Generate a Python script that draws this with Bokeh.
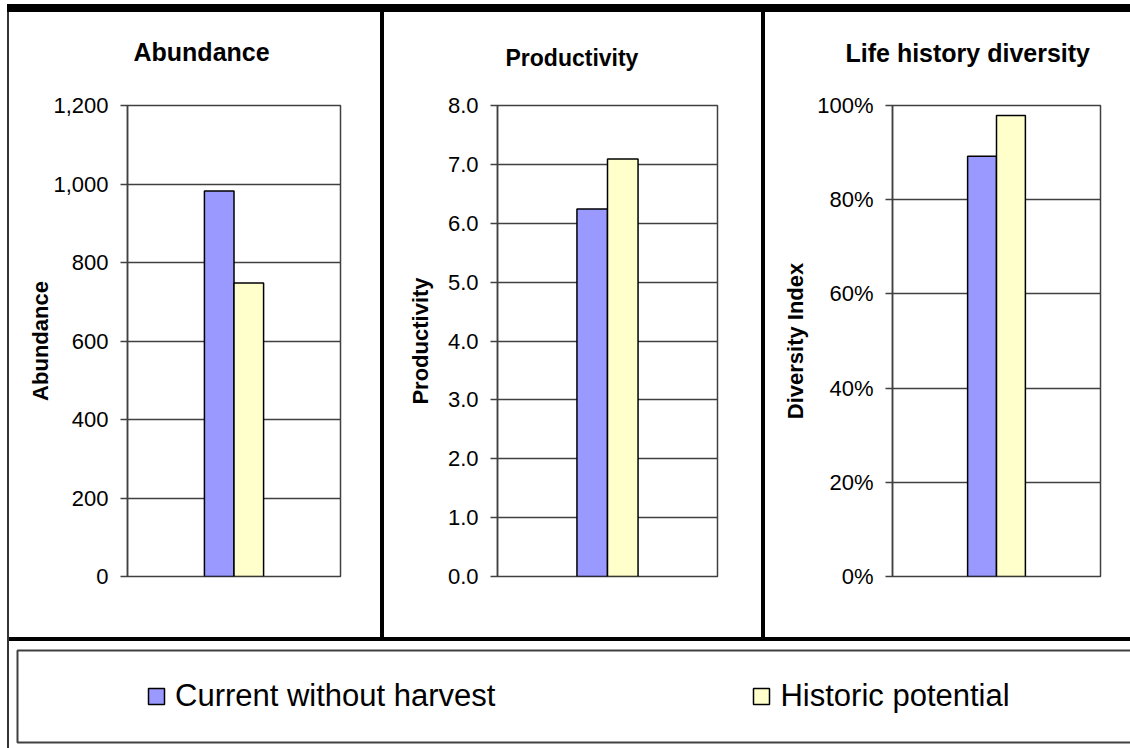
from bokeh.plotting import figure
from bokeh.models import (FactorRange, Range1d, FixedTicker, NumeralTickFormatter, Title, Div,
                          Legend, LegendItem, BoxAnnotation, ColumnDataSource)
from bokeh.layouts import row, column
from bokeh.embed import file_html
from bokeh.resources import INLINE

# ---------------- data ----------------
series = ["Current without harvest", "Historic potential"]
colors = ["#9999FF", "#FFFFCC"]

abundance = [982, 748]
productivity = [6.24, 7.09]
diversity = [0.892, 0.979]

abundance_ticks = [0, 200, 400, 600, 800, 1000, 1200]
productivity_ticks = [0, 1, 2, 3, 4, 5, 6, 7, 8]
diversity_ticks = [0, 0.2, 0.4, 0.6, 0.8, 1.0]

titles = ["Abundance", "Productivity", "Life history diversity"]
ylabels = ["Abundance", "Productivity", "Diversity Index"]

FONT = "Liberation Sans"
GRID = "#404040"
ROW_H = 625


def panel(width, mbl, mbr, mbt, values, ticks, fmt, title, title_size, title_offset,
          gap, ylabel, ylabel_standoff):
    p = figure(width=width, height=ROW_H,
               x_range=FactorRange(factors=series, range_padding=2.6, range_padding_units="absolute"),
               y_range=Range1d(ticks[0], ticks[-1]),
               x_axis_location=None, output_backend="svg", toolbar_location=None, tools="",
               min_border_left=mbl, min_border_right=mbr, min_border_top=mbt, min_border_bottom=61)
    src = ColumnDataSource(dict(x=series, top=values, color=colors))
    p.vbar(x="x", top="top", width=1.0, fill_color="color", line_color="black", line_width=1.5,
           source=src)
    p.xgrid.visible = False
    p.ygrid.ticker = FixedTicker(ticks=ticks)
    p.ygrid.grid_line_color = GRID
    p.ygrid.grid_line_width = 1.3
    p.outline_line_color = GRID
    p.outline_line_width = 1.5
    p.background_fill_color = "white"
    p.border_fill_color = "white"

    ax = p.yaxis[0]
    ax.ticker = FixedTicker(ticks=ticks)
    ax.formatter = NumeralTickFormatter(format=fmt)
    ax.major_tick_out = 7
    ax.major_tick_in = 0
    ax.minor_tick_out = 0
    ax.minor_tick_in = 0
    ax.axis_line_color = GRID
    ax.axis_line_width = 1.5
    ax.major_tick_line_color = GRID
    ax.major_tick_line_width = 1.5
    ax.major_label_text_font = FONT
    ax.major_label_text_font_size = "22px"
    ax.major_label_text_color = "black"
    ax.major_label_standoff = 12
    ax.axis_label = ylabel
    ax.axis_label_text_font = FONT
    ax.axis_label_text_font_style = "bold"
    ax.axis_label_text_font_size = "22px"
    ax.axis_label_text_color = "black"
    ax.axis_label_standoff = ylabel_standoff

    # chart title (farthest from the frame) + spacer title (next to the frame)
    p.title.text = title
    p.title.align = "left"
    p.title.offset = title_offset
    p.title.standoff = 0
    p.title.vertical_align = "bottom"
    p.title.text_font = FONT
    p.title.text_font_style = "bold"
    p.title.text_font_size = title_size
    p.title.text_color = "black"
    p.add_layout(Title(text=" ", text_font_size="1px", standoff=gap), "above")
    return p


p1 = panel(371, 118, 40, 93, abundance, abundance_ticks, "0,0", titles[0], "25px", 6, 37,
           ylabels[0], -3)
p2 = panel(377, 113, 44, 90, productivity, productivity_ticks, "0.0", titles[1], "23px", 8, 32,
           ylabels[1], 12)
p3 = panel(365, 127, 30, 89, diversity, diversity_ticks, "0%", titles[2], "25px", -47, 36,
           ylabels[2], 6)


def bar(w, h, color="black"):
    return Div(text="", width=w, height=h, margin=0,
               styles={"background-color": color, "padding": "0px"})


# legend figure
LEG_W, LEG_H = 1121, 107
lp = figure(width=LEG_W, height=LEG_H, x_range=Range1d(0, LEG_W), y_range=Range1d(0, LEG_H),
            x_axis_location=None, y_axis_location=None, output_backend="svg",
            toolbar_location=None, tools="", min_border=0, outline_line_color=None)
lp.grid.visible = False
lp.border_fill_color = "white"
proxy = ColumnDataSource(dict(x=[0], top=[0]))
r1 = lp.vbar(x="x", top="top", width=1, source=proxy, fill_color=colors[0],
             line_color="black", line_width=1.5, visible=False)
r2 = lp.vbar(x="x", top="top", width=1, source=proxy, fill_color=colors[1],
             line_color="black", line_width=1.5, visible=False)
lp.add_layout(BoxAnnotation(left=8, right=1500, bottom=6, top=98, fill_alpha=0,
                            line_color=GRID, line_alpha=1.0, line_width=2))
legend = Legend(items=[LegendItem(label=series[0], renderers=[r1]),
                       LegendItem(label=series[1], renderers=[r2])],
                orientation="horizontal", location=(137, 34), spacing=256, padding=0, margin=0,
                glyph_width=20, glyph_height=20, label_standoff=9,
                label_text_font=FONT, label_text_font_size="31px", label_text_color="black",
                border_line_alpha=0, background_fill_alpha=0, inactive_fill_alpha=0)
lp.add_layout(legend)

root = column(
    bar(1130, 4, "white"),
    row(
        bar(7, 744, "white"),
        column(
            bar(1123, 8, "black"),
            row(
                bar(2, 736, "#333333"),
                column(
                    row(p1, bar(4, ROW_H), p2, bar(4, ROW_H), p3, spacing=0),
                    bar(1121, 4, "black"),
                    lp,
                    spacing=0,
                ),
                spacing=0,
            ),
            spacing=0,
        ),
        spacing=0,
    ),
    spacing=0,
)

open("out.html", "w").write(file_html(root, INLINE))
